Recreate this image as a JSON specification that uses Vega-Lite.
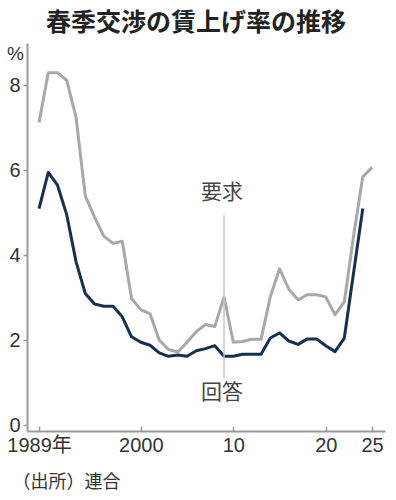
{
  "$schema": "https://vega.github.io/schema/vega-lite/v6.json",
  "width": 358,
  "height": 388,
  "autosize": {"type": "none"},
  "padding": {"left": 27, "top": 43, "right": 11, "bottom": 69},
  "background": "white",
  "title": {
    "text": "春季交渉の賃上げ率の推移",
    "font": "Noto Sans CJK JP",
    "fontSize": 25,
    "fontWeight": "bold",
    "color": "#222222",
    "anchor": "middle",
    "dx": -10,
    "offset": 7
  },
  "config": {
    "view": {"stroke": null},
    "axis": {
      "labelFont": "Liberation Sans Narrow, Liberation Sans, Noto Sans CJK JP, sans-serif",
      "labelFontSize": 20,
      "labelColor": "#333333",
      "domainColor": "#9a9a9a",
      "domainWidth": 2,
      "tickColor": "#9a9a9a",
      "tickWidth": 1.5,
      "grid": false
    }
  },
  "datasets": {
    "rates": [
      {"year": 1989, "series": "回答", "value": 5.1},
      {"year": 1990, "series": "回答", "value": 5.95},
      {"year": 1991, "series": "回答", "value": 5.65},
      {"year": 1992, "series": "回答", "value": 4.95},
      {"year": 1993, "series": "回答", "value": 3.85},
      {"year": 1994, "series": "回答", "value": 3.1},
      {"year": 1995, "series": "回答", "value": 2.85},
      {"year": 1996, "series": "回答", "value": 2.8},
      {"year": 1997, "series": "回答", "value": 2.8},
      {"year": 1998, "series": "回答", "value": 2.55},
      {"year": 1999, "series": "回答", "value": 2.08},
      {"year": 2000, "series": "回答", "value": 1.95},
      {"year": 2001, "series": "回答", "value": 1.88},
      {"year": 2002, "series": "回答", "value": 1.7},
      {"year": 2003, "series": "回答", "value": 1.62},
      {"year": 2004, "series": "回答", "value": 1.65},
      {"year": 2005, "series": "回答", "value": 1.62},
      {"year": 2006, "series": "回答", "value": 1.75},
      {"year": 2007, "series": "回答", "value": 1.8},
      {"year": 2008, "series": "回答", "value": 1.87},
      {"year": 2009, "series": "回答", "value": 1.62},
      {"year": 2010, "series": "回答", "value": 1.62},
      {"year": 2011, "series": "回答", "value": 1.67},
      {"year": 2012, "series": "回答", "value": 1.67},
      {"year": 2013, "series": "回答", "value": 1.67},
      {"year": 2014, "series": "回答", "value": 2.05},
      {"year": 2015, "series": "回答", "value": 2.17},
      {"year": 2016, "series": "回答", "value": 1.98},
      {"year": 2017, "series": "回答", "value": 1.9},
      {"year": 2018, "series": "回答", "value": 2.03},
      {"year": 2019, "series": "回答", "value": 2.03},
      {"year": 2020, "series": "回答", "value": 1.87},
      {"year": 2021, "series": "回答", "value": 1.73},
      {"year": 2022, "series": "回答", "value": 2.05},
      {"year": 2023, "series": "回答", "value": 3.58},
      {"year": 2024, "series": "回答", "value": 5.1},
      {"year": 1989, "series": "要求", "value": 7.13},
      {"year": 1990, "series": "要求", "value": 8.3},
      {"year": 1991, "series": "要求", "value": 8.3},
      {"year": 1992, "series": "要求", "value": 8.12},
      {"year": 1993, "series": "要求", "value": 7.25},
      {"year": 1994, "series": "要求", "value": 5.4},
      {"year": 1995, "series": "要求", "value": 4.9},
      {"year": 1996, "series": "要求", "value": 4.45},
      {"year": 1997, "series": "要求", "value": 4.28},
      {"year": 1998, "series": "要求", "value": 4.33},
      {"year": 1999, "series": "要求", "value": 2.98},
      {"year": 2000, "series": "要求", "value": 2.72},
      {"year": 2001, "series": "要求", "value": 2.62},
      {"year": 2002, "series": "要求", "value": 2.0},
      {"year": 2003, "series": "要求", "value": 1.78},
      {"year": 2004, "series": "要求", "value": 1.72},
      {"year": 2005, "series": "要求", "value": 1.95},
      {"year": 2006, "series": "要求", "value": 2.2},
      {"year": 2007, "series": "要求", "value": 2.37},
      {"year": 2008, "series": "要求", "value": 2.32},
      {"year": 2009, "series": "要求", "value": 3.02},
      {"year": 2010, "series": "要求", "value": 1.95},
      {"year": 2011, "series": "要求", "value": 1.97},
      {"year": 2012, "series": "要求", "value": 2.02},
      {"year": 2013, "series": "要求", "value": 2.02},
      {"year": 2014, "series": "要求", "value": 3.02},
      {"year": 2015, "series": "要求", "value": 3.68},
      {"year": 2016, "series": "要求", "value": 3.2},
      {"year": 2017, "series": "要求", "value": 2.95},
      {"year": 2018, "series": "要求", "value": 3.07},
      {"year": 2019, "series": "要求", "value": 3.07},
      {"year": 2020, "series": "要求", "value": 3.02},
      {"year": 2021, "series": "要求", "value": 2.6},
      {"year": 2022, "series": "要求", "value": 2.9},
      {"year": 2023, "series": "要求", "value": 4.45},
      {"year": 2024, "series": "要求", "value": 5.85},
      {"year": 2025, "series": "要求", "value": 6.07}
    ],
    "leader": [
      {"year": 2009, "lo": 1.1, "hi": 4.94}
    ],
    "labels": [
      {"year": 2009, "value": 5.46, "label": "要求"},
      {"year": 2009, "value": 0.75, "label": "回答"}
    ]
  },
  "layer": [
    {
      "data": {"name": "rates"},
      "mark": {"type": "line", "strokeWidth": 3, "strokeJoin": "round"},
      "encoding": {
        "x": {
          "field": "year",
          "type": "quantitative",
          "scale": {"domain": [1987.7, 2026.4], "nice": false, "zero": false},
          "axis": {
            "values": [1989, 2000, 2010, 2020, 2025],
            "labelExpr": "datum.value == 1989 ? '1989年' : datum.value == 2000 ? '2000' : toString(datum.value - 2000)",
            "tickSize": -5,
            "labelPadding": 9,
            "labelFlush": false,
            "title": "（出所）連合",
            "titleFont": "Noto Sans CJK JP",
            "titleFontSize": 18,
            "titleFontWeight": "normal",
            "titleColor": "#333333",
            "titleAnchor": "start",
            "titleAlign": "left",
            "titleBaseline": "middle",
            "titleX": -15,
            "titleY": 51
          }
        },
        "y": {
          "field": "value",
          "type": "quantitative",
          "scale": {"domain": [-0.14, 9], "nice": false, "zero": false},
          "axis": {
            "values": [0, 2, 4, 6, 8],
            "tickSize": 4,
            "labelPadding": 3,
            "title": "%",
            "titleFont": "Liberation Sans Narrow, Liberation Sans, sans-serif",
            "titleFontSize": 19,
            "titleFontWeight": "normal",
            "titleColor": "#333333",
            "titleAngle": 0,
            "titleAlign": "center",
            "titleBaseline": "middle",
            "titleX": -12,
            "titleY": 10
          }
        },
        "color": {
          "field": "series",
          "type": "nominal",
          "scale": {"domain": ["要求", "回答"], "range": ["#a8a8a8", "#17304f"]},
          "legend": null
        },
        "detail": {"field": "series"}
      }
    },
    {
      "data": {"name": "leader"},
      "mark": {"type": "rule", "color": "#c8c8c8", "strokeWidth": 1.5},
      "encoding": {
        "x": {"field": "year", "type": "quantitative"},
        "y": {"field": "lo", "type": "quantitative"},
        "y2": {"field": "hi"}
      }
    },
    {
      "data": {"name": "labels"},
      "mark": {"type": "text", "font": "Noto Sans CJK JP", "fontSize": 21, "color": "#444444", "align": "center", "baseline": "middle", "dx": -2},
      "encoding": {
        "x": {"field": "year", "type": "quantitative"},
        "y": {"field": "value", "type": "quantitative"},
        "text": {"field": "label"}
      }
    }
  ]
}
